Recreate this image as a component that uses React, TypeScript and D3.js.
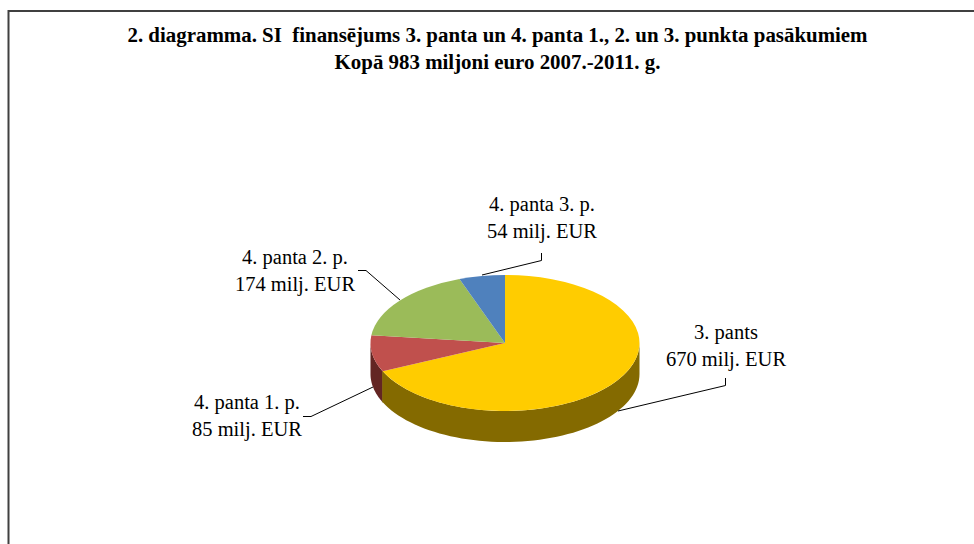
import React from "react";
import * as d3 from "d3";

const categories = ["3. pants", "4. panta 1. p.", "4. panta 2. p.", "4. panta 3. p."];
const values = [670, 85, 174, 54];
const topColors = ["#FFCC00", "#C0504D", "#9BBB59", "#4F81BD"];
const sideColors = ["#846A00", "#632523", "#4F6228", "#254061"];
const titleLines = [
  "2. diagramma. SI  finansējums 3. panta un 4. panta 1., 2. un 3. punkta pasākumiem",
  "Kopā 983 miljoni euro 2007.-2011. g.",
];
// label anchor and leader line for each slice
const labelPos = [
  { x: 726, y: 339 },
  { x: 247, y: 409 },
  { x: 295, y: 264 },
  { x: 542, y: 211 },
];
const leaders = [
  [[618, 411], [725.5, 385.5], [725.5, 378]],
  [[373, 387], [311, 416.5], [303, 416.5]],
  [[400, 300], [366, 270.5], [358, 270.5]],
  [[482, 275], [541.5, 260.5], [541.5, 253]],
];

const cx = 505;
const cy = 343;
const rx = 134.5;
const ry = 68;
const depth = 31;

export default function App() {
  const slices = d3
    .pie<number>()
    .sort(null)
    .startAngle(0)
    .endAngle(2 * Math.PI)(values);
  const arc = d3.arc<d3.PieArcDatum<number>>().innerRadius(0).outerRadius(rx);
  const wall = d3
    .area<number>()
    .x((a) => cx + rx * Math.sin(a))
    .y0((a) => cy - ry * Math.cos(a))
    .y1((a) => cy - ry * Math.cos(a) + depth);

  const walls = slices.map((s) => {
    const from = Math.max(s.startAngle, Math.PI / 2);
    const to = Math.min(s.endAngle, 1.5 * Math.PI);
    if (to <= from) return null;
    return wall(d3.range(0, 61).map((i) => from + ((to - from) * i) / 60));
  });
  // thin edge where the yellow wall meets the red one
  const cut = slices[0].endAngle;

  return (
    <svg
      width={974}
      height={544}
      style={{ position: "absolute", left: 0, top: 0, background: "#fff" }}
      fontFamily="'Liberation Serif', serif"
    >
      <path d="M8.5 544V11H974" fill="none" stroke="#404040" strokeWidth={2} />
      {titleLines.map((t, i) => (
        <text
          key={t}
          x={497.5}
          y={42 + i * 27}
          textAnchor="middle"
          fontSize={20.9}
          fontWeight="bold"
          fill="#000"
          style={{ whiteSpace: "pre" }}
        >
          {t}
        </text>
      ))}
      {walls.map((d, i) => d && <path key={i} d={d} fill={sideColors[i]} />)}
      <line
        x1={cx + rx * Math.sin(cut)}
        x2={cx + rx * Math.sin(cut)}
        y1={cy - ry * Math.cos(cut)}
        y2={cy - ry * Math.cos(cut) + depth}
        stroke={sideColors[0]}
        strokeWidth={1}
      />
      <g transform={`translate(${cx},${cy}) scale(1,${ry / rx})`}>
        {slices.map((s, i) => (
          <path key={i} d={arc(s) ?? ""} fill={topColors[i]} />
        ))}
      </g>
      {leaders.map((pts, i) => (
        <path
          key={i}
          d={d3.line()(pts as [number, number][]) ?? ""}
          fill="none"
          stroke="#000"
          strokeWidth={1}
        />
      ))}
      {categories.map((c, i) => (
        <text key={c} textAnchor="middle" fontSize={20.5} fill="#000">
          <tspan x={labelPos[i].x} y={labelPos[i].y}>
            {c}
          </tspan>
          <tspan x={labelPos[i].x} y={labelPos[i].y + 27}>
            {values[i]} milj. EUR
          </tspan>
        </text>
      ))}
    </svg>
  );
}
